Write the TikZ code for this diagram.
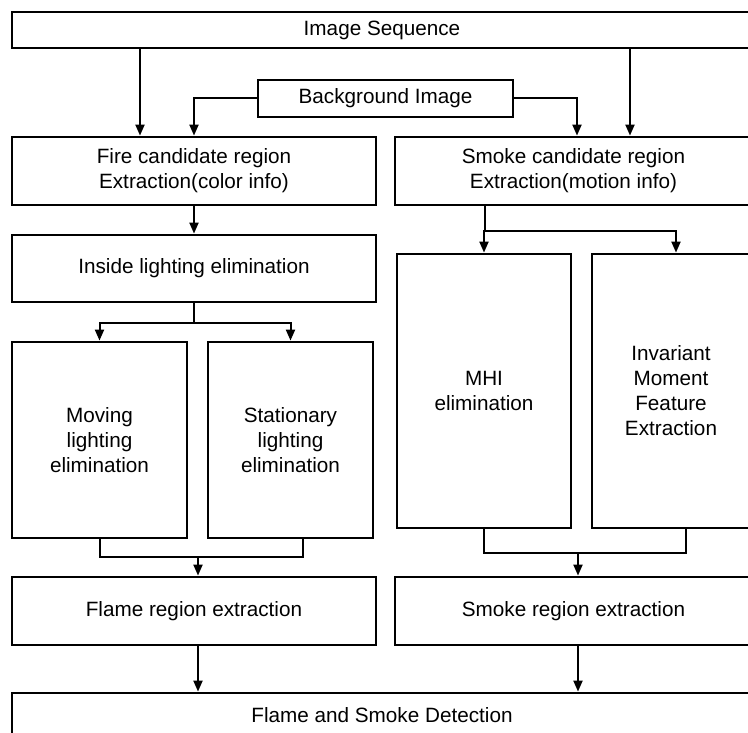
\documentclass[tikz,border=0pt]{standalone}
\usepackage{fontspec}
\setmainfont{Liberation Sans}
\usetikzlibrary{arrows.meta}

\begin{document}
\begin{tikzpicture}[x=1pt, y=-1pt,
    box/.style={draw, line width=2.8pt, align=center, inner sep=0pt,
      font=\fontsize{20.7}{25}\selectfont},
    arr/.style={line width=2pt, -{Triangle[length=11pt,width=9pt]}},
    ln/.style={line width=2pt}]
  \clip (0,0) rectangle (748,733);

  % boxes
  \node[box, minimum width=740, minimum height=36] (seq) at (382,30) {Image Sequence};
  \node[box, minimum width=255, minimum height=37] (bg) at (385.5,98.5) {Background Image};
  \node[box, minimum width=364, minimum height=68] (fire) at (194,171)
    {Fire candidate region\\Extraction(color info)};
  \node[box, minimum width=357, minimum height=68] (smoke) at (573.5,171)
    {Smoke candidate region\\Extraction(motion info)};
  \node[box, minimum width=364, minimum height=67] (inside) at (194,268.5)
    {Inside lighting elimination};
  \node[box, minimum width=175, minimum height=196] (moving) at (99.5,440)
    {Moving\\lighting\\elimination};
  \node[box, minimum width=165, minimum height=196] (stat) at (290.5,440)
    {Stationary\\lighting\\elimination};
  \node[box, minimum width=174, minimum height=274] (mhi) at (484,391)
    {MHI\\elimination};
  \node[box, minimum width=158, minimum height=274] (inv) at (671,391)
    {Invariant\\Moment\\Feature\\Extraction};
  \node[box, minimum width=364, minimum height=68] (flame) at (194,611)
    {Flame region extraction};
  \node[box, minimum width=357, minimum height=68] (smokereg) at (573.5,611)
    {Smoke region extraction};
  \node[box, minimum width=740, minimum height=44] (det) at (382,715)
    {Flame and Smoke Detection};

  % top part
  \draw[arr] ([xshift=-54pt]fire.north |- seq.south) -- ([xshift=-54pt]fire.north);
  \draw[arr] ([xshift=56.5pt]smoke.north |- seq.south) -- ([xshift=56.5pt]smoke.north);
  \draw[arr] (bg.west) -| (fire.north);
  \draw[arr] (bg.east) -| ([xshift=3.5pt]smoke.north);

  % fire side
  \draw[arr] (fire.south) -- (inside.north);
  \draw[ln] (inside.south) -- ++(0,20) coordinate (fsplit);
  \draw[arr] (fsplit) -| (moving.north);
  \draw[arr] (fsplit) -| (stat.north);
  \draw[ln] (moving.south) -- ++(0,18) coordinate (fjoin) -| ([xshift=12pt]stat.south);
  \draw[arr] ([xshift=4pt]fjoin -| flame.north) -- ([xshift=4pt]flame.north);

  % smoke side
  \draw[ln] ([xshift=-88.5pt]smoke.south) -- ++(0,25) coordinate (ssplit);
  \draw[arr] (ssplit) -| (mhi.north);
  \draw[arr] (ssplit) -| ([xshift=5pt]inv.north);
  \draw[ln] (mhi.south) -- ++(0,24) coordinate (sjoin) -| ([xshift=15pt]inv.south);
  \draw[arr] ([xshift=4.5pt]sjoin -| smokereg.north) -- ([xshift=4.5pt]smokereg.north);

  % detection
  \draw[arr] ([xshift=4pt]flame.south) -- ([xshift=4pt]flame.south |- det.north);
  \draw[arr] ([xshift=4.5pt]smokereg.south) -- ([xshift=4.5pt]smokereg.south |- det.north);
\end{tikzpicture}
\end{document}
